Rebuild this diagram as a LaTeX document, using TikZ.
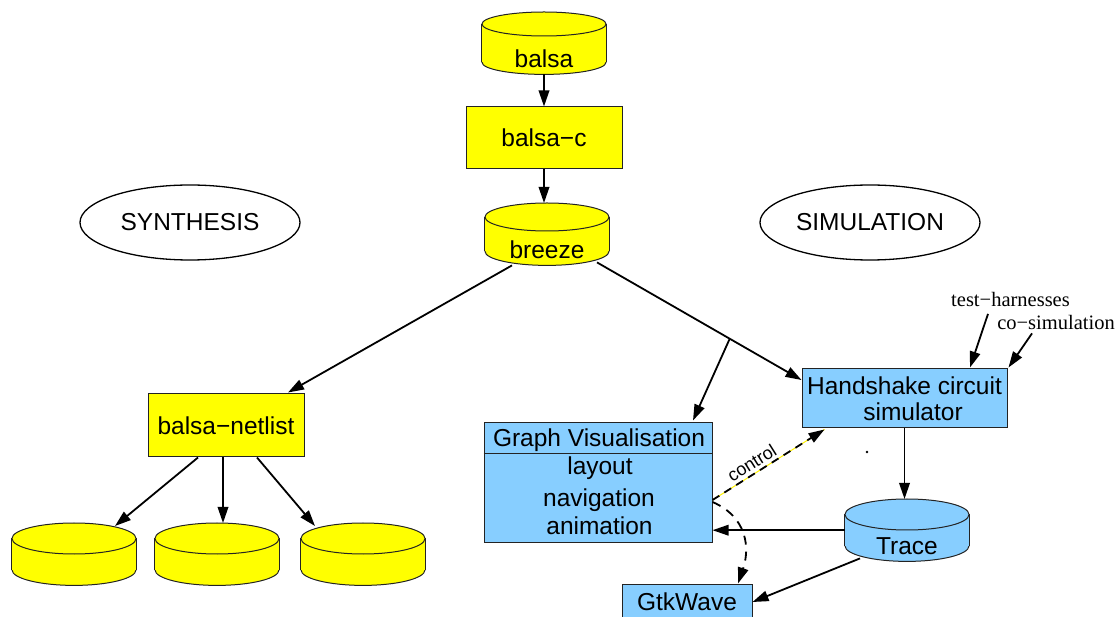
\documentclass[tikz,border=0pt]{standalone}
\usepackage{fontspec}
\setmainfont{Liberation Sans}
\newfontfamily\labelserif{Liberation Serif}
\usetikzlibrary{shapes.geometric,arrows.meta,calc}

\definecolor{padyellow}{RGB}{255,255,0}
\definecolor{simblue}{RGB}{135,206,255}
\definecolor{edgegrey}{RGB}{35,35,35}

\tikzset{
  big/.style={font=\fontsize{24.5}{26}\selectfont},
  box/.style={draw=edgegrey, line width=1pt, big, inner sep=0},
  outline/.style={draw=edgegrey, line width=1pt},
  flow/.style={line width=1.8pt, -{Triangle[length=16pt,width=10.5pt]}},
  serifnote/.style={font=\labelserif\fontsize{20.5}{24}\selectfont, inner sep=0},
  phase/.style={draw, ellipse, line width=1.3pt, big, inner sep=0,
                minimum width=220, minimum height=75},
}

% drum-shaped data store: name, centre x, top y, cap half-height, fill, label
\newcommand\drum[6]{%
  \node[minimum width=124, minimum height=62, inner sep=0, anchor=north] (#1) at (#2,#3) {};
  \draw[outline, fill=#5] ($(#1.south)+(0,-#4)$) ellipse[x radius=62, y radius=#4];
  \fill[#5] ($(#1.north west)+(0,#4)$) rectangle ($(#1.south east)+(0,-#4)$);
  \draw[outline] ($(#1.north west)+(0,#4)$) -- ($(#1.south west)+(0,-#4)$);
  \draw[outline] ($(#1.north east)+(0,#4)$) -- ($(#1.south east)+(0,-#4)$);
  \draw[outline, fill=#5] ($(#1.north)+(0,#4)$) ellipse[x radius=62, y radius=#4];
  \node[big, inner sep=0] (#1-label) at ($(#1.north)+(0,47)$) {#6};
}

\begin{document}
\begin{tikzpicture}[x=1pt, y=-1pt]
\useasboundingbox (0,0) rectangle (1120,617);
\clip (0,0) rectangle (1120,617);

% compiler chain
\drum{balsa}{544}{12}{12}{padyellow}{balsa}
\node[box, fill=padyellow, minimum width=156, minimum height=62] (balsac) at (544,138) {balsa−c};
\drum{breeze}{547}{203}{14}{padyellow}{breeze}

% phase labels
\node[phase] (synth) at (190,222.5) {SYNTHESIS};
\node[phase] (simul) at (870,222.5) {SIMULATION};

% synthesis branch
\node[box, fill=padyellow, minimum width=156, minimum height=63] (netlist) at (226,425.5) {balsa−netlist};
\drum{c1}{74}{523}{15.5}{padyellow}{}
\drum{c2}{217}{523}{15.5}{padyellow}{}
\drum{c3}{363}{523}{15.5}{padyellow}{}

% simulation branch
\node[box, fill=simblue, minimum width=205, minimum height=59, align=center] (hs) at (904.5,398.5)
  {Handshake circuit\\\hspace*{17pt}simulator};

\node[box, fill=simblue, minimum width=228, minimum height=120] (gv) at (598,483) {};
\draw[outline] ($(gv.north west)+(0,31)$) -- ($(gv.north east)+(0,31)$);
\node[big, inner sep=0, anchor=base] (gvhead) at (599,446.5) {Graph Visualisation};
\node[big, inner sep=0, anchor=base] (gvlayout) at (600,475) {layout};
\node[big, inner sep=0, anchor=base] (gvnav) at (599,506.5) {navigation};
\node[big, inner sep=0, anchor=base] (gvanim) at (599.5,535) {animation};

\drum{trace}{907}{499}{15.5}{simblue}{Trace}
\node[box, fill=simblue, minimum width=130, minimum height=36] (gtk) at (687,602) {GtkWave};

\node[serifnote] (th) at (1010.5,299.5) {test−harnesses};
\node[serifnote] (cs) at (1056,322) {co−simulation};

% connectors
\draw[flow] (balsa.south) -- (balsac.north);
\draw[flow] (balsac.south) -- (balsac.south |- breeze.north);
\draw[flow] ($(breeze.south)+(-35,0)$) -- ($(netlist.north)+(62,-1)$);
\draw[flow] ($(breeze.south)+(50,-3)$) -- coordinate[pos=0.649] (fork) ($(hs.west)+(0,-18.5)$);
\draw[flow] (fork) -- ($(gv.north)+(95,-2)$);

\draw[flow] ($(netlist.south)+(-28,0)$) -- ($(c1.north)+(41,3)$);
\draw[flow] ($(netlist.south)+(-3,0)$) -- ($(c2.north)+(6,0)$);
\draw[flow] ($(netlist.south)+(31,0)$) -- ($(c3.north)+(-48,3)$);

\draw[flow] ($(th.south)+(-22.5,7)$) -- ($(hs.north)+(65.5,-1)$);
\draw[flow] ($(cs.south)+(-24,4)$) -- ($(hs.north east)+(1,-1)$);

\draw[flow] (hs.south) -- (hs.south |- trace.north);
\draw[flow] (trace.west) -- (trace.west -| gv.east);
\draw[flow] ($(trace.south)+(-47,-3)$) -- (gtk.east);

\draw[yellow, line width=1pt] ($(gv.east)+(0,17)$) -- ($(hs.south west)+(23,1)$);
\draw[flow, dash pattern=on 8pt off 6pt] ($(gv.east)+(0,17)$) --
  node[pos=0.4, sloped, above=2pt, inner sep=1pt, font=\fontsize{18}{20}\selectfont] (ctl) {control}
  ($(hs.south west)+(23,1)$);
\draw[flow, dash pattern=on 9pt off 7pt] ($(gv.east)+(0,19)$)
  .. controls +(35,15) and +(12,-35) .. ($(gtk.north)+(51,0)$);

\fill (867,452) circle[radius=1.3];
\end{tikzpicture}
\end{document}
